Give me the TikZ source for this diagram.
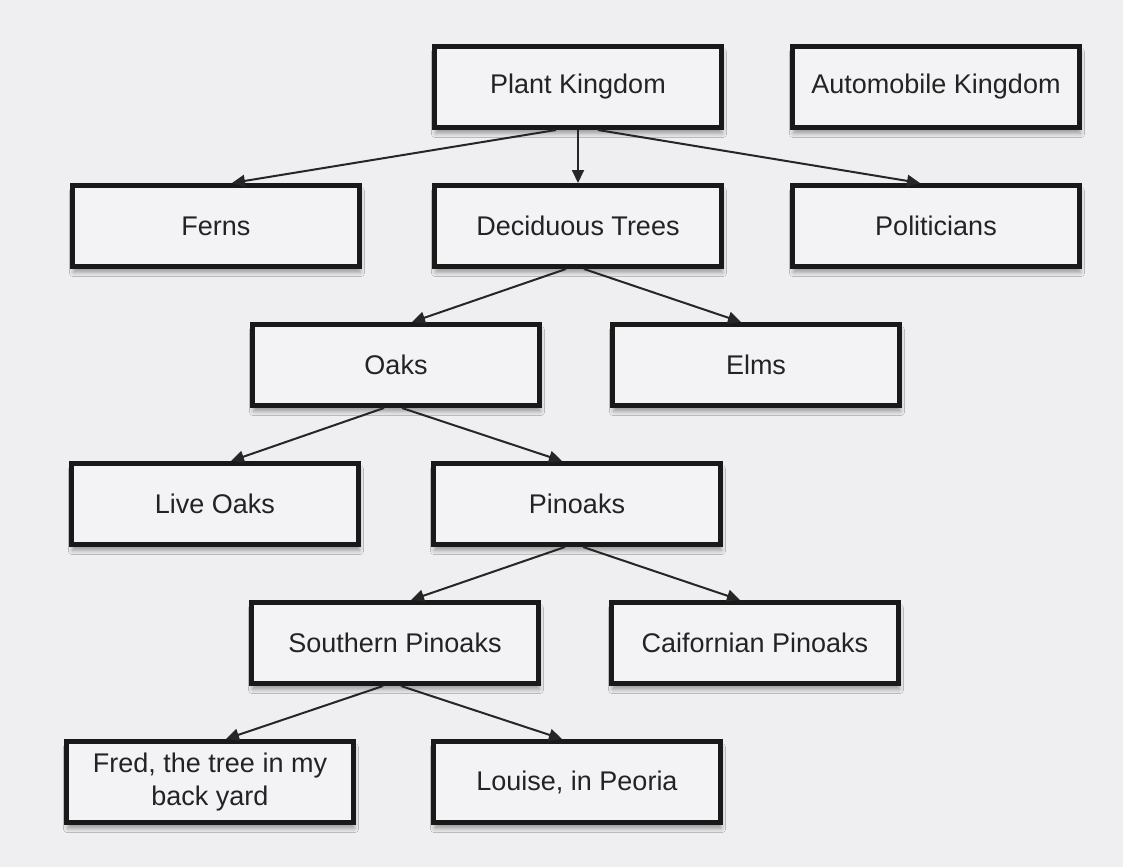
\documentclass[tikz,border=0pt]{standalone}
\usepackage{fontspec}
\setmainfont{Liberation Sans}
\usepackage{xcolor}
\usetikzlibrary{arrows.meta, positioning, shadows.blur}
\definecolor{bggray}{RGB}{239,239,241}
\definecolor{boxfill}{RGB}{243,243,245}
\definecolor{inkgray}{RGB}{35,35,35}
\tikzset{
  box/.style={rectangle, draw=black!90, line width=2.5pt, fill=boxfill, minimum height=40.5pt, minimum width=143.5pt, align=center, text=inkgray, font=\fontsize{13.5}{16.5}\selectfont, blur shadow={shadow xshift=0.5pt, shadow yshift=-3pt, shadow blur steps=6, shadow opacity=35}},
  arrow/.style={-{Triangle[length=6.5pt, width=6pt]}, line width=1pt, draw=black!85},
}

\begin{document}
\begin{tikzpicture}[node distance=26.5pt and 34pt]
    \fill[bggray] (-289pt,43.5pt) rectangle (272.5pt,-390pt);
    \node[box] (plant) {Plant Kingdom};
    \node[box, right=of plant, xshift=-1pt] (auto) {Automobile Kingdom};
    \node[box, below=of plant] (decid) {Deciduous Trees};
    \node[box, left=of decid, xshift=-1pt] (ferns) {Ferns};
    \node[box, right=of decid, xshift=-1pt] (polit) {Politicians};
    \node[box, below=of decid, xshift=-91pt] (oaks) {Oaks};
    \node[box, right=of oaks] (elms) {Elms};
    \node[box, below=of oaks, xshift=-90.5pt] (liveoaks) {Live Oaks};
    \node[box, right=of liveoaks, xshift=1pt] (pinoaks) {Pinoaks};
    \node[box, below=of pinoaks, xshift=-91pt] (southern) {Southern Pinoaks};
    \node[box, right=of southern] (calif) {Caifornian Pinoaks};
    \node[box, below=of southern, xshift=-92.5pt] (fred) {Fred, the tree in my\\back yard};
    \node[box, below=of southern, xshift=91pt] (louise) {Louise, in Peoria};
    % top level
    \draw[arrow] ([xshift=-11pt]plant.south) -- ([xshift=8pt]ferns.north);
    \draw[arrow] (plant.south) -- (decid.north);
    \draw[arrow] ([xshift=10pt]plant.south) -- ([xshift=-8pt]polit.north);
    % lower levels
    \draw[arrow] ([xshift=-6pt]decid.south) -- ([xshift=8pt]oaks.north);
    \draw[arrow] ([xshift=3pt]decid.south) -- ([xshift=-7.5pt]elms.north);
    \draw[arrow] ([xshift=-6pt]oaks.south) -- ([xshift=8pt]liveoaks.north);
    \draw[arrow] ([xshift=3pt]oaks.south) -- ([xshift=-7.5pt]pinoaks.north);
    \draw[arrow] ([xshift=-6pt]pinoaks.south) -- ([xshift=8pt]southern.north);
    \draw[arrow] ([xshift=3pt]pinoaks.south) -- ([xshift=-7.5pt]calif.north);
    \draw[arrow] ([xshift=-6pt]southern.south) -- ([xshift=8pt]fred.north);
    \draw[arrow] ([xshift=3pt]southern.south) -- ([xshift=-7.5pt]louise.north);
  \end{tikzpicture}
\end{document}
